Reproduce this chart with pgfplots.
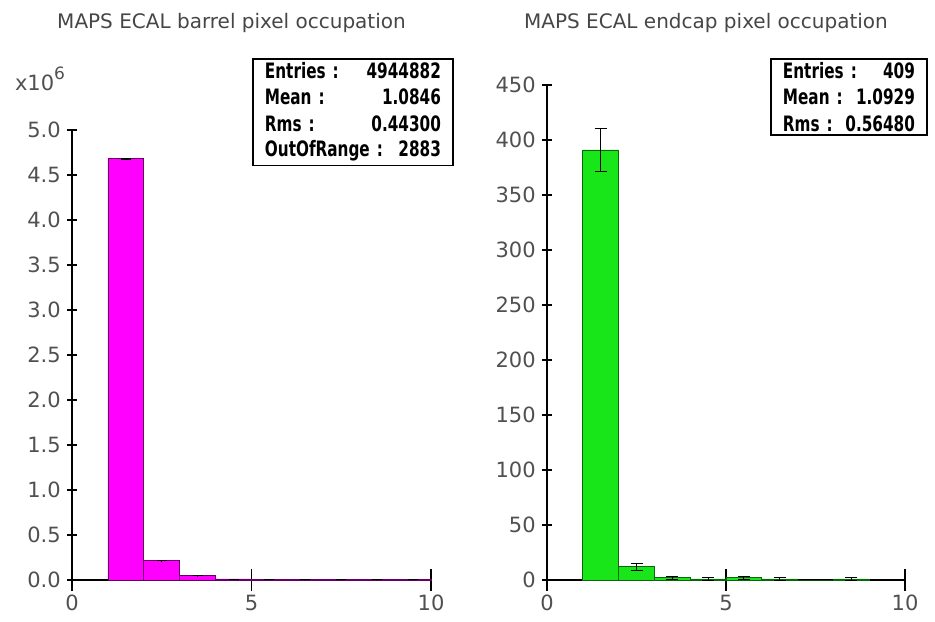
\documentclass[border=0pt]{standalone}
\usepackage{fontspec}
\setmainfont{DejaVu Sans}
\newfontfamily\statfont{DejaVu Sans Condensed}[FakeStretch=0.8]
\usepackage{pgfplots}
\pgfplotsset{compat=1.18}
\definecolor{hmag}{RGB}{255,0,255}
\definecolor{hgreen}{RGB}{24,230,24}
\definecolor{ticklab}{RGB}{80,80,80}
\definecolor{titlecol}{RGB}{70,70,70}
\newcommand{\srow}[2]{\makebox[\linewidth][l]{#1\hfill #2}}
\pgfplotsset{histax/.style={
  scale only axis, axis lines*=left, xmin=0, xmax=10, ymin=0, xtick={0,5,10},
  tick align=center,
  axis line style={black, line width=0.6pt},
  tick style={black, line width=0.6pt},
  xtick style={/pgfplots/major tick length=11pt},
  ytick style={/pgfplots/major tick length=5pt},
  tick label style={font=\fontsize{10.5}{12}\selectfont, text=ticklab},
  xticklabel style={yshift=-2pt},
  /pgf/number format/assume math mode=true,
  clip=false, anchor=south west,
}}
\begin{document}
\begin{tikzpicture}
\useasboundingbox (0,0) rectangle (467.5pt,310.5pt);
% ---------------- left: barrel ----------------
\begin{axis}[histax, at={(36pt,20.5pt)}, width=179.5pt, height=225pt, ymax=5,
  ytick={0,0.5,1,1.5,2,2.5,3,3.5,4,4.5,5},
  yticklabel style={/pgf/number format/fixed, /pgf/number format/fixed zerofill, /pgf/number format/precision=1}]
\addplot[ybar interval, fill=hmag, draw=black!60!hmag, line width=0.4pt] coordinates {
 (1,4.68) (2,0.215) (3,0.046) (4,0.012) (5,0.006) (6,0.004) (7,0.003) (8,0.002) (9,0.0015) (10,0)};
\addplot[draw=none, mark=none, error bars/.cd, y dir=both, y explicit, error mark=|,
  error bar style={draw=black, line width=0.5pt}, error mark options={draw=black, mark size=2.5pt}] coordinates {
 (1.5,4.68) +- (0,0.0022) (2.5,0.215) +- (0,0.0005) (3.5,0.046) +- (0,0.0002)
 (4.5,0.012) +- (0,0.0001) (5.5,0.006) +- (0,0.0001) (6.5,0.004) +- (0,0.0001)
 (7.5,0.003) +- (0,0.0001) (8.5,0.002) +- (0,0.0001) (9.5,0.0015) +- (0,0.0001)};
\end{axis}
% ---------------- right: endcap ----------------
\begin{axis}[histax, at={(273.5pt,20.5pt)}, width=179pt, height=247.5pt, ymax=450,
  ytick={0,50,100,150,200,250,300,350,400,450}]
\addplot[ybar interval, fill=hgreen, draw=black!55!hgreen, line width=0.4pt] coordinates {
 (1,391) (2,12) (3,2) (4,1) (5,2) (6,1) (7,0) (8,1) (9,0)};
\addplot[draw=none, mark=none, error bars/.cd, y dir=both, y explicit, error mark=|,
  error bar style={draw=black, line width=0.5pt}, error mark options={draw=black, mark size=3pt}] coordinates {
 (1.5,391) +- (0,19.8) (2.5,12) +- (0,3.5) (3.5,2) +- (0,1.4) (4.5,1) +- (0,1)
 (5.5,2) +- (0,1.4) (6.5,1) +- (0,1) (8.5,1) +- (0,1)};
\end{axis}
% ---------------- titles ----------------
\node[font=\fontsize{10}{12}\selectfont, text=titlecol] at (115.75pt,299pt) {MAPS ECAL barrel pixel occupation};
\node[font=\fontsize{10}{12}\selectfont, text=titlecol] at (353pt,299pt) {MAPS ECAL endcap pixel occupation};
\node[font=\fontsize{10.5}{12}\selectfont, text=ticklab] at (20pt,271pt) {x10\raisebox{0.9ex}{\fontsize{8.5}{10}\selectfont 6}};
% ---------------- stat boxes ----------------
\node[draw=black, line width=0.9pt, anchor=north west, inner xsep=6pt, inner ysep=2pt,
  text width=88pt, align=left, font=\statfont\bfseries\fontsize{10.6}{13}\selectfont] at (126pt,281.5pt)
  {\srow{Entries :}{4944882}\\\srow{Mean :}{1.0846}\\\srow{Rms :}{0.44300}\\\srow{OutOfRange :}{2883}};
\node[draw=black, line width=0.9pt, anchor=north west, inner xsep=6pt, inner ysep=2pt,
  text width=66pt, align=left, font=\statfont\bfseries\fontsize{10.6}{13}\selectfont] at (385pt,281.5pt)
  {\srow{Entries :}{409}\\\srow{Mean :}{1.0929}\\\srow{Rms :}{0.56480}};
\end{tikzpicture}
\end{document}
